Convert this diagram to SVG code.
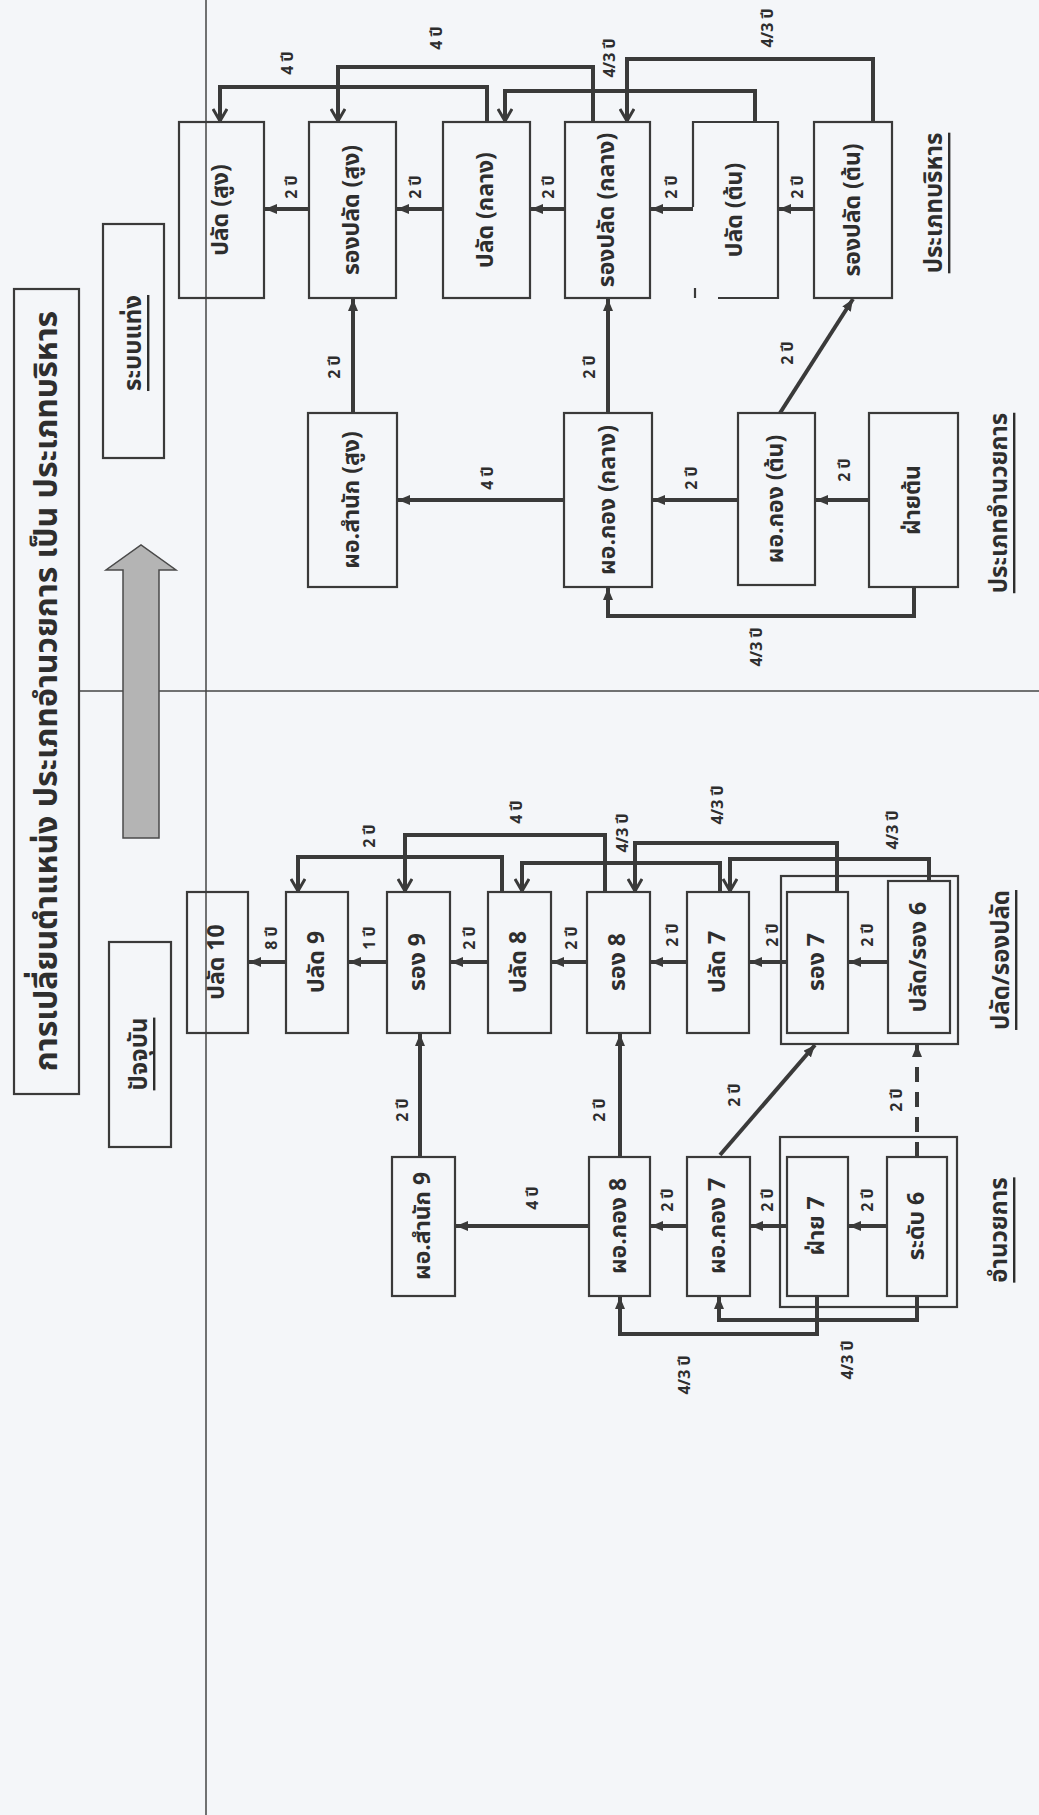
<svg xmlns="http://www.w3.org/2000/svg" width="1039" height="1815" viewBox="0 0 1039 1815">
<defs>
<style>
.bx{fill:none;stroke:#3a3a3a;stroke-width:2.2}
.cn{fill:none;stroke:#3a3a3a;stroke-width:4}
.th{fill:none;stroke:#444;stroke-width:1.5}
.t{font-family:'Noto Sans Thai','Noto Sans','DejaVu Sans',sans-serif;font-weight:bold;fill:#2e2e2e;text-anchor:middle;dominant-baseline:central}
.nb{font-size:23px}
.lb{font-size:16px}
.sec{font-size:24px;text-decoration:underline}
</style>
<marker id="ah" viewBox="0 0 12 10" refX="12" refY="5" markerWidth="12" markerHeight="10" markerUnits="userSpaceOnUse" orient="auto"><path d="M0,0 L12,5 L0,10 z" fill="#3a3a3a"/></marker>
<marker id="av" viewBox="0 0 14 16" refX="13" refY="8" markerWidth="14" markerHeight="16" markerUnits="userSpaceOnUse" orient="auto"><path d="M1,1 L13,8 L1,15" fill="none" stroke="#3a3a3a" stroke-width="3"/></marker>
</defs>
<rect x="0" y="0" width="1039" height="1815" fill="#f4f6f9"/>
<g id="frame">
<line class="th" x1="206" y1="0" x2="206" y2="1815"/>
<line class="th" x1="79" y1="691" x2="1039" y2="691"/>
</g>
<g id="title">
<rect class="bx" x="14" y="289" width="65" height="805"/>
<text class="t" font-size="32" transform="translate(47,691) rotate(-90)">การเปลี่ยนตำแหน่ง ประเภทอำนวยการ เป็น ประเภทบริหาร</text>
</g>
<g id="box-new">
<rect class="bx" x="103" y="224" width="61" height="234"/>
<text class="t sec" transform="translate(134,343) rotate(-90)">ระบบแท่ง</text>
</g>
<g id="box-current">
<rect class="bx" x="109" y="942" width="62" height="205"/>
<text class="t sec" transform="translate(140,1054) rotate(-90)">ปัจจุบัน</text>
</g>
<g id="big-arrow">
<polygon points="123,838 123,570 106,570 141,545 176,570 159,570 159,838" fill="#b4b4b4" stroke="#4a4a4a" stroke-width="1.5"/>
</g>

<g id="n-pl-sung"><rect class="bx" x="179" y="122" width="85" height="176"/><text class="t nb" transform="translate(221,210) rotate(-90)">ปลัด (สูง)</text></g>
<g id="n-rpl-sung"><rect class="bx" x="309" y="122" width="87" height="176"/><text class="t nb" transform="translate(352,210) rotate(-90)">รองปลัด (สูง)</text></g>
<g id="n-pl-klang"><rect class="bx" x="443" y="122" width="87" height="176"/><text class="t nb" transform="translate(486,210) rotate(-90)">ปลัด (กลาง)</text></g>
<g id="n-rpl-klang"><rect class="bx" x="565" y="122" width="85" height="176"/><text class="t nb" transform="translate(607,210) rotate(-90)">รองปลัด (กลาง)</text></g>
<g id="n-pl-ton"><path class="bx" d="M693,207 V122 H778 V298 H718 M695,288 V298"/><text class="t nb" transform="translate(735,210) rotate(-90)">ปลัด (ต้น)</text></g>
<g id="n-rpl-ton"><rect class="bx" x="814" y="122" width="78" height="176"/><text class="t nb" transform="translate(853,210) rotate(-90)">รองปลัด (ต้น)</text></g>
<g id="n-ds-sung"><rect class="bx" x="308" y="413" width="89" height="174"/><text class="t nb" transform="translate(352,500) rotate(-90)">ผอ.สำนัก (สูง)</text></g>
<g id="n-dk-klang"><rect class="bx" x="564" y="413" width="88" height="174"/><text class="t nb" transform="translate(608,500) rotate(-90)">ผอ.กอง (กลาง)</text></g>
<g id="n-dk-ton"><rect class="bx" x="738" y="413" width="77" height="172"/><text class="t nb" transform="translate(776,499) rotate(-90)">ผอ.กอง (ต้น)</text></g>
<g id="n-fai-ton"><rect class="bx" x="869" y="413" width="89" height="174"/><text class="t nb" transform="translate(913,500) rotate(-90)">ฝ่ายต้น</text></g>
<g id="sec-borihan"><text class="t sec" transform="translate(935,203) rotate(-90)">ประเภทบริหาร</text></g>
<g id="sec-amnuaykan"><text class="t sec" transform="translate(1000,503) rotate(-90)">ประเภทอำนวยการ</text></g>

<g id="n-pl10"><rect class="bx" x="187" y="892" width="61" height="141"/><text class="t nb" transform="translate(217,962) rotate(-90)">ปลัด 10</text></g>
<g id="n-pl9"><rect class="bx" x="286" y="892" width="62" height="141"/><text class="t nb" transform="translate(317,962) rotate(-90)">ปลัด 9</text></g>
<g id="n-r9"><rect class="bx" x="387" y="892" width="63" height="141"/><text class="t nb" transform="translate(418,962) rotate(-90)">รอง 9</text></g>
<g id="n-pl8"><rect class="bx" x="488" y="892" width="63" height="141"/><text class="t nb" transform="translate(519,962) rotate(-90)">ปลัด 8</text></g>
<g id="n-r8"><rect class="bx" x="587" y="892" width="63" height="141"/><text class="t nb" transform="translate(618,962) rotate(-90)">รอง 8</text></g>
<g id="n-pl7"><rect class="bx" x="687" y="892" width="62" height="141"/><text class="t nb" transform="translate(718,962) rotate(-90)">ปลัด 7</text></g>
<g id="grp-top"><rect class="bx" x="781" y="876" width="177" height="168"/></g>
<g id="n-r7"><rect class="bx" x="787" y="892" width="61" height="141"/><text class="t nb" transform="translate(817,962) rotate(-90)">รอง 7</text></g>
<g id="n-plr6"><rect class="bx" x="888" y="881" width="62" height="152"/><text class="t nb" transform="translate(919,957) rotate(-90)">ปลัด/รอง 6</text></g>
<g id="n-ds9"><rect class="bx" x="392" y="1157" width="63" height="139"/><text class="t nb" transform="translate(423,1226) rotate(-90)">ผอ.สำนัก 9</text></g>
<g id="n-dk8"><rect class="bx" x="589" y="1157" width="61" height="139"/><text class="t nb" transform="translate(619,1226) rotate(-90)">ผอ.กอง 8</text></g>
<g id="n-dk7"><rect class="bx" x="687" y="1157" width="63" height="139"/><text class="t nb" transform="translate(718,1226) rotate(-90)">ผอ.กอง 7</text></g>
<g id="grp-bottom"><rect class="bx" x="780" y="1137" width="177" height="170"/></g>
<g id="n-fai7"><rect class="bx" x="787" y="1157" width="61" height="139"/><text class="t nb" transform="translate(817,1226) rotate(-90)">ฝ่าย 7</text></g>
<g id="n-lv6"><rect class="bx" x="887" y="1157" width="60" height="139"/><text class="t nb" transform="translate(917,1226) rotate(-90)">ระดับ 6</text></g>
<g id="sec-plr"><text class="t sec" transform="translate(1002,960) rotate(-90)">ปลัด/รองปลัด</text></g>
<g id="sec-amn"><text class="t sec" transform="translate(1000,1230) rotate(-90)">อำนวยการ</text></g>

<g id="connectors">
<line class="cn" x1="309" y1="209" x2="265" y2="209" marker-end="url(#ah)"/>
<line class="cn" x1="443" y1="209" x2="397" y2="209" marker-end="url(#ah)"/>
<line class="cn" x1="565" y1="209" x2="531" y2="209" marker-end="url(#ah)"/>
<line class="cn" x1="693" y1="209" x2="651" y2="209" marker-end="url(#ah)"/>
<line class="cn" x1="814" y1="209" x2="779" y2="209" marker-end="url(#ah)"/>
<polyline class="cn" points="487,122 487,87 220,87 220,121" marker-end="url(#av)"/>
<polyline class="cn" points="593,122 593,67 338,67 338,121" marker-end="url(#av)"/>
<polyline class="cn" points="755,122 755,91 505,91 505,121" marker-end="url(#av)"/>
<polyline class="cn" points="873,122 873,59 627,59 627,121" marker-end="url(#av)"/>
<line class="cn" x1="353" y1="413" x2="353" y2="299" marker-end="url(#ah)"/>
<line class="cn" x1="608" y1="413" x2="608" y2="299" marker-end="url(#ah)"/>
<line class="cn" x1="780" y1="413" x2="853" y2="299" marker-end="url(#ah)"/>
<line class="cn" x1="564" y1="500" x2="398" y2="500" marker-end="url(#ah)"/>
<line class="cn" x1="738" y1="500" x2="653" y2="500" marker-end="url(#ah)"/>
<line class="cn" x1="869" y1="500" x2="816" y2="500" marker-end="url(#ah)"/>
<polyline class="cn" points="914,587 914,616 608,616 608,588" marker-end="url(#ah)"/>
<line class="cn" x1="286" y1="962" x2="249" y2="962" marker-end="url(#ah)"/>
<line class="cn" x1="387" y1="962" x2="349" y2="962" marker-end="url(#ah)"/>
<line class="cn" x1="488" y1="962" x2="451" y2="962" marker-end="url(#ah)"/>
<line class="cn" x1="587" y1="962" x2="552" y2="962" marker-end="url(#ah)"/>
<line class="cn" x1="687" y1="962" x2="651" y2="962" marker-end="url(#ah)"/>
<line class="cn" x1="787" y1="962" x2="750" y2="962" marker-end="url(#ah)"/>
<line class="cn" x1="888" y1="962" x2="849" y2="962" marker-end="url(#ah)"/>
<polyline class="cn" points="502,892 502,857 298,857 298,891" marker-end="url(#av)"/>
<polyline class="cn" points="605,892 605,835 405,835 405,891" marker-end="url(#av)"/>
<polyline class="cn" points="720,892 720,863 522,863 522,891" marker-end="url(#av)"/>
<polyline class="cn" points="837,892 837,843 635,843 635,891" marker-end="url(#av)"/>
<polyline class="cn" points="929,881 929,859 730,859 730,891" marker-end="url(#av)"/>
<line class="cn" x1="420" y1="1157" x2="420" y2="1034" marker-end="url(#ah)"/>
<line class="cn" x1="620" y1="1157" x2="620" y2="1034" marker-end="url(#ah)"/>
<line class="cn" x1="720" y1="1155" x2="815" y2="1045" marker-end="url(#ah)"/>
<line class="cn" x1="917" y1="1157" x2="917" y2="1045" stroke-dasharray="15 10" marker-end="url(#ah)"/>
<line class="cn" x1="589" y1="1226" x2="456" y2="1226" marker-end="url(#ah)"/>
<line class="cn" x1="687" y1="1226" x2="651" y2="1226" marker-end="url(#ah)"/>
<line class="cn" x1="787" y1="1226" x2="751" y2="1226" marker-end="url(#ah)"/>
<line class="cn" x1="887" y1="1226" x2="849" y2="1226" marker-end="url(#ah)"/>
<polyline class="cn" points="917,1296 917,1320 719,1320 719,1297" marker-end="url(#ah)"/>
<polyline class="cn" points="817,1296 817,1334 620,1334 620,1297" marker-end="url(#ah)"/>
</g>

<g id="labels">
<text class="t lb" transform="translate(292,187) rotate(-90)">2 ปี</text>
<text class="t lb" transform="translate(416,187) rotate(-90)">2 ปี</text>
<text class="t lb" transform="translate(549,187) rotate(-90)">2 ปี</text>
<text class="t lb" transform="translate(672,187) rotate(-90)">2 ปี</text>
<text class="t lb" transform="translate(798,187) rotate(-90)">2 ปี</text>
<text class="t lb" transform="translate(288,63) rotate(-90)">4 ปี</text>
<text class="t lb" transform="translate(437,38) rotate(-90)">4 ปี</text>
<text class="t lb" transform="translate(610,58) rotate(-90)">4/3 ปี</text>
<text class="t lb" transform="translate(768,28) rotate(-90)">4/3 ปี</text>
<text class="t lb" transform="translate(335,367) rotate(-90)">2 ปี</text>
<text class="t lb" transform="translate(590,367) rotate(-90)">2 ปี</text>
<text class="t lb" transform="translate(788,353) rotate(-90)">2 ปี</text>
<text class="t lb" transform="translate(488,478) rotate(-90)">4 ปี</text>
<text class="t lb" transform="translate(692,478) rotate(-90)">2 ปี</text>
<text class="t lb" transform="translate(845,470) rotate(-90)">2 ปี</text>
<text class="t lb" transform="translate(757,647) rotate(-90)">4/3 ปี</text>
<text class="t lb" transform="translate(272,938) rotate(-90)">8 ปี</text>
<text class="t lb" transform="translate(370,938) rotate(-90)">1 ปี</text>
<text class="t lb" transform="translate(470,938) rotate(-90)">2 ปี</text>
<text class="t lb" transform="translate(572,938) rotate(-90)">2 ปี</text>
<text class="t lb" transform="translate(673,935) rotate(-90)">2 ปี</text>
<text class="t lb" transform="translate(773,935) rotate(-90)">2 ปี</text>
<text class="t lb" transform="translate(868,935) rotate(-90)">2 ปี</text>
<text class="t lb" transform="translate(370,836) rotate(-90)">2 ปี</text>
<text class="t lb" transform="translate(517,812) rotate(-90)">4 ปี</text>
<text class="t lb" transform="translate(623,833) rotate(-90)">4/3 ปี</text>
<text class="t lb" transform="translate(718,805) rotate(-90)">4/3 ปี</text>
<text class="t lb" transform="translate(893,830) rotate(-90)">4/3 ปี</text>
<text class="t lb" transform="translate(403,1110) rotate(-90)">2 ปี</text>
<text class="t lb" transform="translate(600,1110) rotate(-90)">2 ปี</text>
<text class="t lb" transform="translate(735,1095) rotate(-90)">2 ปี</text>
<text class="t lb" transform="translate(897,1100) rotate(-90)">2 ปี</text>
<text class="t lb" transform="translate(533,1198) rotate(-90)">4 ปี</text>
<text class="t lb" transform="translate(668,1200) rotate(-90)">2 ปี</text>
<text class="t lb" transform="translate(768,1200) rotate(-90)">2 ปี</text>
<text class="t lb" transform="translate(868,1200) rotate(-90)">2 ปี</text>
<text class="t lb" transform="translate(848,1360) rotate(-90)">4/3 ปี</text>
<text class="t lb" transform="translate(685,1375) rotate(-90)">4/3 ปี</text>
</g>
</svg>
